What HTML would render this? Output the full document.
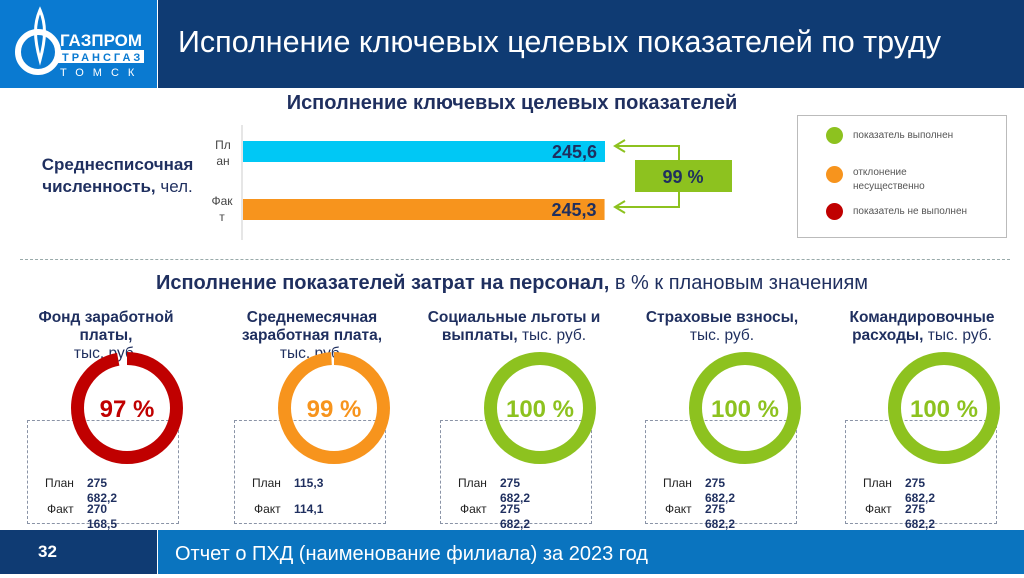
<!DOCTYPE html>
<html><head><meta charset="utf-8"><style>
body{margin:0;width:1024px;height:574px;overflow:hidden;background:#fff;font-family:"Liberation Sans",sans-serif;position:relative}
.a{position:absolute}
.t{color:#1f2f5f;font-weight:bold;font-size:15.5px;text-align:center;line-height:18px}
.n{font-weight:normal}
.box{position:absolute;border:1px dashed #8a93a6;top:420px;height:102px;width:150px}
.pl{position:absolute;font-size:12px;color:#222}
.v{position:absolute;font-size:12px;font-weight:bold;color:#1f2f5f;width:32px;line-height:15px}
</style></head><body>
<div class="a" style="left:0;top:0;width:157px;height:88px;background:#0a7ad1">
 <svg width="157" height="88">
  <path d="M40 10 C34 24 34 38 40 60 C46 38 46 24 40 10Z" fill="none" stroke="#fff" stroke-width="3"/>
  <circle cx="38" cy="52" r="20" fill="none" stroke="#fff" stroke-width="6"/>
  <text x="60" y="46" fill="#fff" font-size="17" font-weight="bold" font-family="Liberation Sans" textLength="82" lengthAdjust="spacingAndGlyphs">ГАЗПРОМ</text>
  <rect x="58" y="50" width="86" height="13" fill="#fff"/>
  <text x="62" y="61" fill="#0a7ad1" font-size="11" font-weight="bold" letter-spacing="3">ТРАНСГАЗ</text>
  <text x="60" y="76" fill="#fff" font-size="11" letter-spacing="9">ТОМСК</text>
 </svg>
</div>
<div class="a" style="left:158px;top:0;width:866px;height:88px;background:#0f3b73"></div>
<div class="a" style="left:178px;top:25px;color:#fff;font-size:30.5px">Исполнение ключевых целевых показателей по труду</div>

<div class="a" style="left:0;width:1024px;top:92px;text-align:center;font-size:20px;font-weight:bold;color:#1f2f5f">Исполнение ключевых целевых показателей</div>
<div class="a" style="left:20px;width:195px;top:154px;text-align:center;font-size:17px;font-weight:bold;color:#1f2f5f;line-height:22px">Среднесписочная численность, <span class="n">чел.</span></div>
<div class="a" style="left:212px;top:137px;font-size:12px;color:#444;line-height:16px;width:22px;text-align:center">Пл ан</div>
<div class="a" style="left:208px;top:193px;font-size:12px;color:#444;line-height:16px;width:28px;text-align:center">Фак т</div>
<svg class="a" id="bars" style="left:0;top:0" width="1024" height="260"></svg>

<div class="a" style="left:797px;top:115px;width:208px;height:121px;border:1px solid #bbb"></div>
<div class="a" style="left:826px;top:127px"><span style="display:inline-block;width:17px;height:17px;border-radius:50%;background:#8dc21f;vertical-align:middle"></span><span style="font-size:10px;color:#555;margin-left:10px;vertical-align:middle">показатель выполнен</span></div>
<div class="a" style="left:826px;top:166px"><span style="display:inline-block;width:17px;height:17px;border-radius:50%;background:#f7941d;vertical-align:top"></span><span style="display:inline-block;font-size:10px;color:#555;margin-left:10px;line-height:14px">отклонение<br>несущественно</span></div>
<div class="a" style="left:826px;top:203px"><span style="display:inline-block;width:17px;height:17px;border-radius:50%;background:#c00000;vertical-align:middle"></span><span style="font-size:10px;color:#555;margin-left:10px;vertical-align:middle">показатель не выполнен</span></div>

<div class="a" style="left:20px;top:259px;width:990px;border-top:1px dashed #9aa"></div>
<div class="a" style="left:0;width:1024px;top:272px;text-align:center;font-size:20px;font-weight:bold;color:#1f2f5f">Исполнение показателей затрат на персонал, <span class="n">в % к плановым значениям</span></div>

<div id="cards"></div>

<div class="a" style="left:0;top:530px;width:157px;height:44px;background:#0f3b73;color:#fff;font-weight:bold;font-size:17px;line-height:44px;text-indent:38px">32</div>
<div class="a" style="left:158px;top:530px;width:866px;height:44px;background:#0a74bf;color:#fff;font-size:20px;line-height:48px;text-indent:17px">Отчет о ПХД (наименование филиала) за 2023 год</div>

<script>
const barCats=['План','Факт'];
const barVals=[245.6,245.3];
const barLabels=['245,6','245,3'];
const kpiPct='99 %';
const ns='http://www.w3.org/2000/svg';
const svg=document.getElementById('bars');
function mk(t,a){const e=document.createElementNS(ns,t);for(const k in a)e.setAttribute(k,a[k]);svg.appendChild(e);return e;}
const x0=243,xMax=245.6,wMax=362;
function xs(v){return x0+v/xMax*wMax;}
const ys=[141,199],cols=['#00c8f5','#f7941d'];
let ax=mk('line',{x1:242,y1:125,x2:242,y2:240,stroke:'#ccc'});


barVals.forEach((v,i)=>{
 const r=mk('rect',{x:x0,y:ys[i],width:xs(v)-x0,height:21,fill:cols[i]});
 
 
 const t=mk('text',{x:xs(v)-8,y:ys[i]+17,'text-anchor':'end','font-size':18,'font-weight':'bold',fill:'#1f2f5f','font-family':'Liberation Sans'});
 t.textContent=barLabels[i];
 
 
});
const g='#8dc21f';
let p1=mk('polyline',{points:'679,160 679,146 615,146',fill:'none',stroke:g,'stroke-width':2});

let p2=mk('polyline',{points:'679,192 679,207 615,207',fill:'none',stroke:g,'stroke-width':2});

mk('polyline',{points:'625,140 615,146 625,152',fill:'none',stroke:g,'stroke-width':2});
mk('polyline',{points:'625,201 615,207 625,213',fill:'none',stroke:g,'stroke-width':2});
let bx=mk('rect',{x:635,y:160,width:97,height:32,fill:'#8dc21f'});

let bt=mk('text',{x:683,y:183,'text-anchor':'middle','font-size':18,'font-weight':'bold',fill:'#1f2f5f','font-family':'Liberation Sans'});
bt.textContent=kpiPct;

const cardTitles=[['Фонд заработной','платы,','<span class="n">тыс. руб.</span>'],['Среднемесячная','заработная плата,','<span class="n">тыс. руб.</span>'],['Социальные льготы и','выплаты, <span class="n">тыс. руб.</span>'],['Страховые взносы,','<span class="n">тыс. руб.</span>'],['Командировочные','расходы, <span class="n">тыс. руб.</span>']];
const cardPct=[97,99,100,100,100];
const cardPlan=['275 682,2','115,3','275 682,2','275 682,2','275 682,2'];
const cardFact=['270 168,5','114,1','275 682,2','275 682,2','275 682,2'];
const cx=[127,334,540,745,944];
const titleX=[106,312,514,722,922];
const boxL=[27,234,440,645,845];
const cards=document.getElementById('cards');
cardPct.forEach((p,i)=>{
 const col=p>=100?'#8dc21f':(p>=98?'#f7941d':'#c00000');
 const d=document.createElement('div');
 
 
 let h='<div class="box" style="left:'+boxL[i]+'px"></div>';
 h+='<div class="a t" style="left:'+(titleX[i]-95)+'px;width:190px;top:309px">'+cardTitles[i].join('<br>')+'</div>';
 const r=49.5,C=2*Math.PI*r;
 h+='<svg class="a" style="left:'+(cx[i]-60)+'px;top:348px" width="120" height="120"><circle cx="60" cy="60" r="'+r+'" fill="none" stroke="'+col+'" stroke-width="13" stroke-dasharray="'+(C*p/100)+' '+C+'" transform="rotate(-90 60 60)"/><text x="60" y="69" text-anchor="middle" font-size="24" font-weight="bold" fill="'+col+'" font-family="Liberation Sans">'+p+' %</text></svg>';
 const L=boxL[i];
 h+='<div class="pl" style="left:'+(L+18)+'px;top:476px">План</div><div class="v" style="left:'+(L+60)+'px;top:476px">'+cardPlan[i]+'</div>';
 h+='<div class="pl" style="left:'+(L+20)+'px;top:502px">Факт</div><div class="v" style="left:'+(L+60)+'px;top:502px">'+cardFact[i]+'</div>';
 d.innerHTML=h;cards.appendChild(d);
});
</script>
</body></html>
